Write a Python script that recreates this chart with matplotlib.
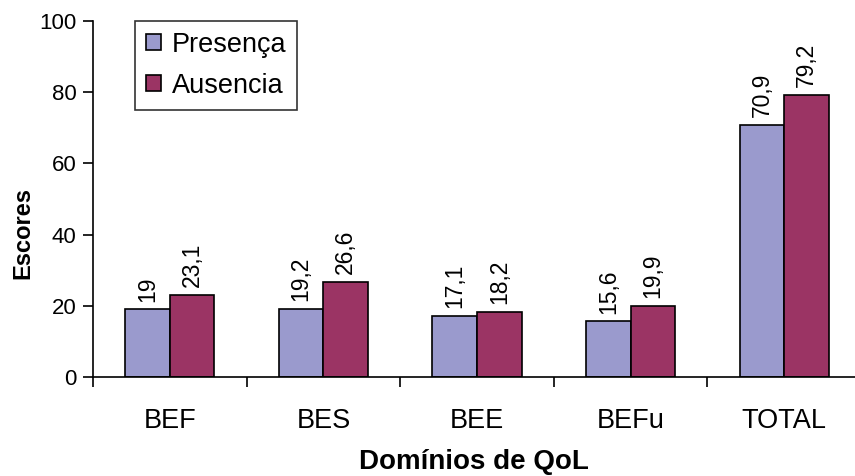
import numpy as np
import matplotlib.pyplot as plt
from matplotlib.ticker import FixedLocator

# data
categories = ['BEF', 'BES', 'BEE', 'BEFu', 'TOTAL']
presenca = [19, 19.2, 17.1, 15.6, 70.9]
ausencia = [23.1, 26.6, 18.2, 19.9, 79.2]
presenca_labels = ['19', '19,2', '17,1', '15,6', '70,9']
ausencia_labels = ['23,1', '26,6', '18,2', '19,9', '79,2']

plt.rcParams['font.family'] = ['Liberation Sans', 'DejaVu Sans']

fig = plt.figure(figsize=(8.55, 4.76), dpi=100)
W, H = 855, 476
left, right, top, bottom = 93, 861, 21, 377
ax = fig.add_axes([left / W, 1 - bottom / H, (right - left) / W, (bottom - top) / H])

x = np.arange(len(categories))
w = 0.29
b1 = ax.bar(x - w / 2, presenca, w, color='#9a9acd', edgecolor='black', linewidth=1.2,
            label='Presença')
b2 = ax.bar(x + w / 2, ausencia, w, color='#9b3464', edgecolor='black', linewidth=1.2,
            label='Ausencia')

for rect, lab in zip(b1, presenca_labels):
    ax.text(rect.get_x() + rect.get_width() / 2, rect.get_height() + 2.2, lab,
            rotation=90, ha='center', va='bottom', fontsize=16.5)
for rect, lab in zip(b2, ausencia_labels):
    ax.text(rect.get_x() + rect.get_width() / 2, rect.get_height() + 2.2, lab,
            rotation=90, ha='center', va='bottom', fontsize=16.5)

ax.set_xlim(-0.5, len(categories) - 0.5)
ax.set_ylim(0, 100)
ax.set_yticks([0, 20, 40, 60, 80, 100])
ax.tick_params(axis='y', labelsize=16, length=7, width=1.2, direction='out', pad=5)
ax.set_xticks(x)
ax.set_xticklabels(categories, fontsize=19.5)
ax.tick_params(axis='x', which='major', length=0, pad=22)
ax.xaxis.set_minor_locator(FixedLocator(np.arange(-0.5, len(categories), 1.0)))
ax.tick_params(axis='x', which='minor', length=7, width=1.2, direction='out')

ax.spines['top'].set_visible(False)
ax.spines['right'].set_visible(False)
ax.spines['left'].set_linewidth(1.2)
ax.spines['bottom'].set_linewidth(1.2)

# axis titles placed on the figure so they stay inside the canvas
fig.text(23 / W, 1 - 233 / H, 'Escores', rotation=90, fontsize=17, fontweight='bold',
         ha='center', va='center')
fig.text(474 / W, 1 - 462 / H, 'Domínios de QoL', fontsize=20, fontweight='bold',
         ha='center', va='center')

leg = ax.legend(loc='upper left', bbox_to_anchor=(0.055, 1.0), fontsize=19.5,
                frameon=True, fancybox=False, edgecolor='black',
                handlelength=0.55, handleheight=0.55, handletextpad=0.4,
                borderpad=0.4, labelspacing=0.55, borderaxespad=0)
leg.get_frame().set_linewidth(1.2)

fig.savefig('out.png', dpi=100)
